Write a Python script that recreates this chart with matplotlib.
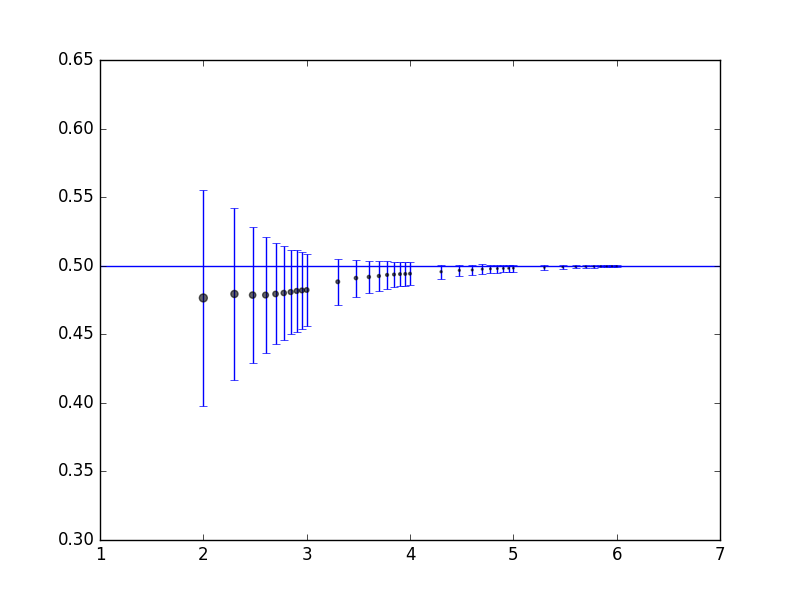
import numpy as np
import matplotlib
matplotlib.use("Agg")
import matplotlib.pyplot as plt

plt.style.use("classic")

sample_sizes = [100, 200, 300, 400, 500, 600, 700, 800, 900, 1000,
                2000, 3000, 4000, 5000, 6000, 7000, 8000, 9000, 10000,
                20000, 30000, 40000, 50000, 60000, 70000, 80000, 90000, 100000,
                200000, 300000, 400000, 500000, 600000, 700000, 800000, 900000, 1000000]
means = [0.4765, 0.4794, 0.4786, 0.4786, 0.4794, 0.4801, 0.4808, 0.4816, 0.4820, 0.4823,
         0.4883, 0.4910, 0.4918, 0.4925, 0.4933, 0.4936, 0.4939, 0.4940, 0.4942,
         0.4956, 0.4966, 0.4969, 0.4975, 0.4977, 0.4979, 0.4980, 0.4981, 0.4982,
         0.4986, 0.4990, 0.4992, 0.4993, 0.4994, 0.4995, 0.4995, 0.4996, 0.4996]
errors = [0.0785, 0.0624, 0.0496, 0.0420, 0.0368, 0.0340, 0.0303, 0.0296, 0.0282, 0.0260,
          0.0167, 0.0135, 0.0120, 0.0110, 0.0100, 0.0092, 0.0088, 0.0086, 0.0085,
          0.0050, 0.0042, 0.0037, 0.0035, 0.0030, 0.0029, 0.0027, 0.0026, 0.0025,
          0.0017, 0.0013, 0.0011, 0.0010, 0.0009, 0.0008, 0.0008, 0.0007, 0.0007]
true_value = 0.5

x = np.log10(sample_sizes)
err = np.array(errors)
sizes = 420 * err  # marker area follows the error size

fig = plt.figure(figsize=(8, 6), dpi=100, facecolor="white")
ax = fig.add_subplot(111)
ax.axhline(true_value, color="b")
ax.errorbar(x, means, yerr=err, fmt="none", ecolor="b", capsize=3)
ax.scatter(x, means, s=sizes, c="k", alpha=0.6, edgecolors="k", zorder=3)
ax.set_xlim(1, 7)
ax.set_ylim(0.30, 0.65)
fig.savefig("out.png", dpi=100, facecolor="white")
